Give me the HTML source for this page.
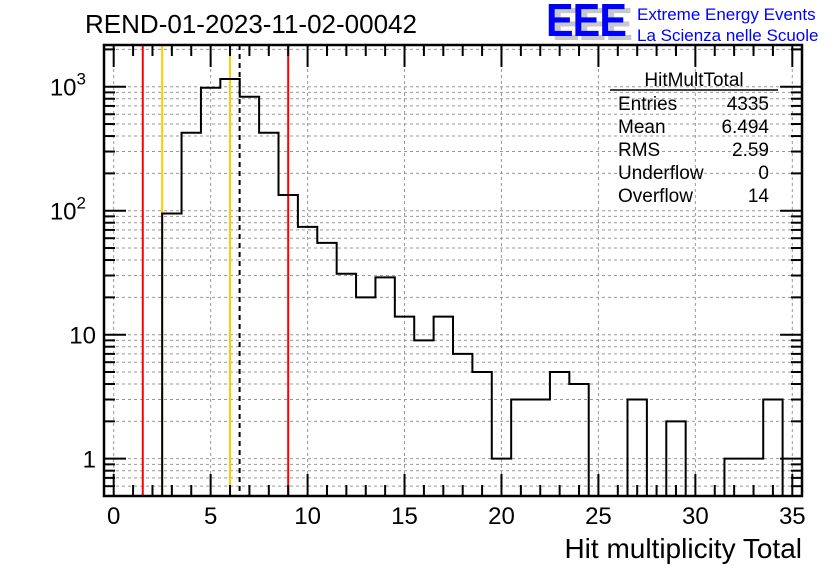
<!DOCTYPE html>
<html><head><meta charset="utf-8"><style>
body{margin:0;background:#fff}
svg text{font-family:"Liberation Sans",Arial,sans-serif}
</style></head><body>
<svg id="c" width="836" height="572" viewBox="0 0 836 572" xmlns="http://www.w3.org/2000/svg">
<rect width="836" height="572" fill="#fff"/>
<g id="grid"></g>
<g id="vlines"></g>
<g id="hist"></g>
<g id="axes"></g>
<text x="251" y="33" font-size="26" text-anchor="middle">REND-01-2023-11-02-00042</text>
<g>
<text x="552" y="40" font-size="46" font-weight="bold" fill="#c8c8c8" letter-spacing="-1" textLength="80" lengthAdjust="spacingAndGlyphs">EEE</text>
<text x="546" y="36" font-size="46" font-weight="bold" fill="#0000ff" letter-spacing="-1" textLength="80" lengthAdjust="spacingAndGlyphs">EEE</text>
<text x="637" y="20" font-size="17" fill="#0000ff">Extreme Energy Events</text>
<text x="637" y="41" font-size="17" fill="#0000ff">La Scienza nelle Scuole</text>
</g>
<g font-size="19">
<text x="694" y="86" text-anchor="middle">HitMultTotal</text>
<line x1="610" y1="90" x2="778" y2="90" stroke="#000" stroke-width="1.5"/>
<text x="618" y="110">Entries</text><text x="769" y="110" text-anchor="end">4335</text>
<text x="618" y="133">Mean</text><text x="769" y="133" text-anchor="end">6.494</text>
<text x="618" y="156">RMS</text><text x="769" y="156" text-anchor="end">2.59</text>
<text x="618" y="179">Underflow</text><text x="769" y="179" text-anchor="end">0</text>
<text x="618" y="202">Overflow</text><text x="769" y="202" text-anchor="end">14</text>
</g>
<text x="802" y="558" font-size="28" text-anchor="end">Hit multiplicity Total</text>
</svg>
<script>
const binCenters=[3,4,5,6,7,8,9,10,11,12,13,14,15,16,17,18,19,20,21,22,23,24,25,26,27,28,29,30,31,32,33,34];
const counts=[95,425,980,1153,830,425,134,74,55,31,20,29,14,9,14,7,5,1,3,3,5,4,0,0,3,0,2,0,0,1,1,3];
const xTicks=[0,5,10,15,20,25,30,35];
const yDecades=[1,10,100,1000];
const yDecadeLabels=["1","10","10²","10³"];
const redLines=[1.5,9.0];
const yellowLines=[2.5,6.0];
const meanLine=[6.494];

const L=104,R=802,T=45,B=496,XMIN=-0.5,XMAX=35.5,YMIN=0.5,YMAX=2170;
const X=v=>L+(v-XMIN)/(XMAX-XMIN)*(R-L);
const Y=v=>v<=YMIN?B:B-(Math.log10(v)-Math.log10(YMIN))/(Math.log10(YMAX)-Math.log10(YMIN))*(B-T);
const NS="http://www.w3.org/2000/svg";
function mk(tag,attrs,parent){const e=document.createElementNS(NS,tag);for(const k in attrs)e.setAttribute(k,attrs[k]);parent.appendChild(e);return e;}
const grid=document.getElementById('grid'),axes=document.getElementById('axes'),hist=document.getElementById('hist'),vl=document.getElementById('vlines');
xTicks.forEach(t=>{const l=mk('line',{x1:X(t),x2:X(t),y1:T,y2:B,stroke:'#999','stroke-dasharray':'3,3','stroke-width':1},grid);

});
for(let d=0.1;d<=1000;d*=10){for(let m=1;m<10;m++){const v=d*m;if(v<YMIN||v>YMAX)continue;
const l=mk('line',{x1:L,x2:R,y1:Y(v),y2:Y(v),stroke:'#999','stroke-dasharray':'3,3','stroke-width':1},grid);


const ln=m===1?22:11;
const t1=mk('line',{x1:L,x2:L+ln,y1:Y(v),y2:Y(v),stroke:'#000','stroke-width':2},axes);


const t2=mk('line',{x1:R,x2:R-ln,y1:Y(v),y2:Y(v),stroke:'#000','stroke-width':2},axes);

}}
function vline(v,color,dash,name){const l=mk('line',{x1:X(v),x2:X(v),y1:T,y2:B,stroke:color,'stroke-width':2},vl);if(dash)l.setAttribute('stroke-dasharray',dash);

}
redLines.forEach(v=>vline(v,'#ff0000',null,'red-cut-line'));
yellowLines.forEach(v=>vline(v,'#ffcc00',null,'yellow-cut-line'));
meanLine.forEach(v=>vline(v,'#000',"5,4",'mean-line'));
let d='';binCenters.forEach((c,i)=>{const y=Y(counts[i]);const x0=X(c-0.5),x1=X(c+0.5);d+=(i===0?`M${x0},${B}L${x0},${y}`:`L${x0},${y}`)+`L${x1},${y}`;});
d+=`L${X(binCenters[binCenters.length-1]+0.5)},${B}`;
const h=mk('path',{d:d,fill:'none',stroke:'#000','stroke-width':2},hist);


const f=mk('rect',{x:L,y:T,width:R-L,height:B-T,fill:'none',stroke:'#000','stroke-width':2.5},axes);


for(let v=0;v<=35;v++){const ln=v%5===0?22:11;
const a=mk('line',{x1:X(v),x2:X(v),y1:B,y2:B-ln,stroke:'#000','stroke-width':2},axes);


const b=mk('line',{x1:X(v),x2:X(v),y1:T,y2:T+ln,stroke:'#000','stroke-width':2},axes);

}
xTicks.forEach(t=>{const e=mk('text',{x:X(t),y:524,'font-size':24,'text-anchor':'middle'},axes);e.textContent=t;

});
yDecades.forEach((v,i)=>{const e=mk('text',{x:96,y:Y(v)+9,'font-size':24,'text-anchor':'end'},axes);
const lab=yDecadeLabels[i];
if(lab.length===3){e.textContent='10';const s=mk('tspan',{dy:-11,'font-size':17},e);s.textContent=lab==='10²'?'2':'3';e.setAttribute('x',86);}
else e.textContent=lab;

});
</script>
</body></html>
